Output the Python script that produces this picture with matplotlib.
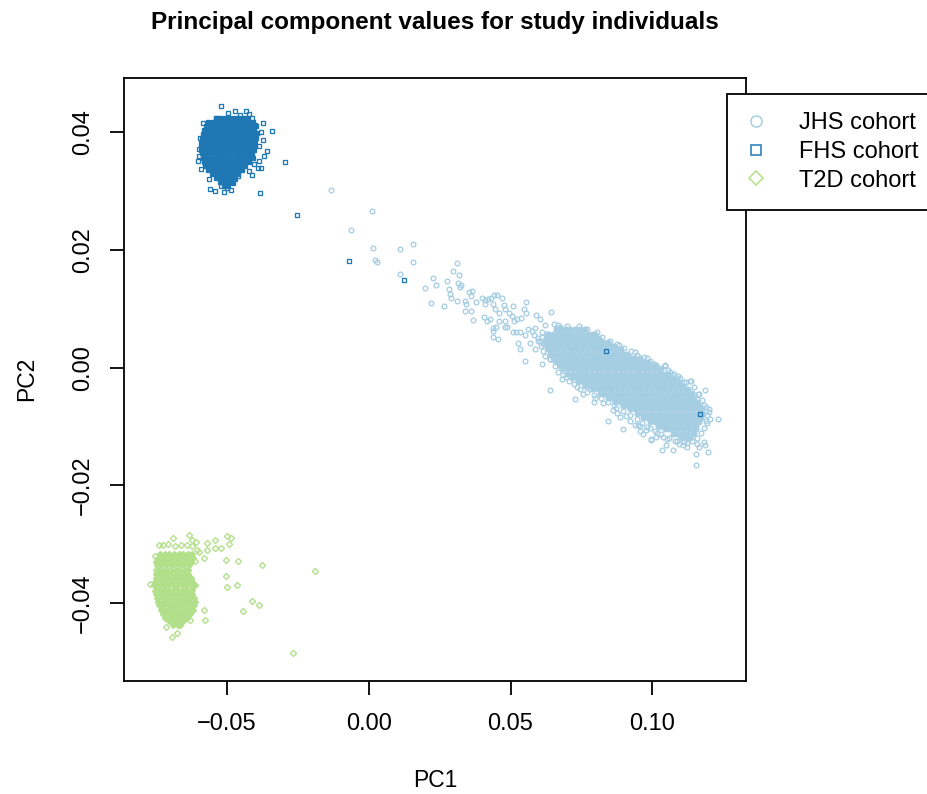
import numpy as np
import matplotlib.pyplot as plt
from matplotlib.lines import Line2D

plt.rcParams['font.family'] = ['Liberation Sans', 'DejaVu Sans']

# cohorts, colours and marker shapes
cohorts = ['JHS cohort', 'FHS cohort', 'T2D cohort']
colors = ['#A6CEE3', '#1F78B4', '#B2DF8A']
markers = ['o', 's', 'D']

x_ticks = [-0.05, 0.00, 0.05, 0.10]
y_ticks = [-0.04, -0.02, 0.00, 0.02, 0.04]

# --- JHS: dense (overplotted) band, one row per PC2 value (PC2, [PC1 ...])
jhs_core_rows = [
    (0.0065, [0.0660, 0.0677, 0.0694, 0.0711, 0.0728, 0.0745, 0.0762]),
    (0.0058, [0.0633, 0.0650, 0.0667, 0.0684, 0.0701, 0.0718, 0.0735, 0.0752, 0.0769, 0.0786, 0.0798]),
    (0.0051, [0.0625, 0.0642, 0.0659, 0.0676, 0.0693, 0.0710, 0.0727, 0.0744, 0.0761, 0.0778, 0.0795, 0.0812]),
    (0.0044, [0.0621, 0.0638, 0.0655, 0.0672, 0.0689, 0.0706, 0.0723, 0.0740, 0.0757, 0.0774, 0.0791, 0.0808,
              0.0825, 0.0842]),
    (0.0037, [0.0628, 0.0645, 0.0662, 0.0679, 0.0696, 0.0713, 0.0730, 0.0747, 0.0764, 0.0781, 0.0798, 0.0815,
              0.0832, 0.0849, 0.0866]),
    (0.0031, [0.0633, 0.0650, 0.0667, 0.0684, 0.0701, 0.0718, 0.0735, 0.0752, 0.0769, 0.0786, 0.0803, 0.0820,
              0.0837, 0.0854, 0.0871, 0.0888]),
    (0.0024, [0.0640, 0.0657, 0.0674, 0.0691, 0.0708, 0.0725, 0.0742, 0.0759, 0.0776, 0.0793, 0.0810, 0.0827,
              0.0844, 0.0861, 0.0878, 0.0895, 0.0912]),
    (0.0017, [0.0650, 0.0667, 0.0684, 0.0701, 0.0718, 0.0735, 0.0752, 0.0769, 0.0786, 0.0803, 0.0820, 0.0837,
              0.0854, 0.0871, 0.0888, 0.0905, 0.0922, 0.0939, 0.0956]),
    (0.0010, [0.0662, 0.0679, 0.0696, 0.0713, 0.0730, 0.0747, 0.0764, 0.0781, 0.0798, 0.0815, 0.0832, 0.0849,
              0.0866, 0.0883, 0.0900, 0.0917, 0.0934, 0.0951, 0.0968, 0.0985]),
    (0.0003, [0.0674, 0.0691, 0.0708, 0.0725, 0.0742, 0.0759, 0.0776, 0.0793, 0.0810, 0.0827, 0.0844, 0.0861,
              0.0878, 0.0895, 0.0912, 0.0929, 0.0946, 0.0963, 0.0980, 0.0997, 0.1010]),
    (-0.0003, [0.0686, 0.0703, 0.0720, 0.0737, 0.0754, 0.0771, 0.0788, 0.0805, 0.0822, 0.0839, 0.0856, 0.0873,
               0.0890, 0.0907, 0.0924, 0.0941, 0.0958, 0.0975, 0.0992, 0.1009, 0.1026]),
    (-0.0010, [0.0699, 0.0716, 0.0733, 0.0750, 0.0767, 0.0784, 0.0801, 0.0818, 0.0835, 0.0852, 0.0869, 0.0886,
               0.0903, 0.0920, 0.0937, 0.0954, 0.0971, 0.0988, 0.1005, 0.1022, 0.1039, 0.1055]),
    (-0.0017, [0.0718, 0.0735, 0.0752, 0.0769, 0.0786, 0.0803, 0.0820, 0.0837, 0.0854, 0.0871, 0.0888, 0.0905,
               0.0922, 0.0939, 0.0956, 0.0973, 0.0990, 0.1007, 0.1024, 0.1041, 0.1058, 0.1075]),
    (-0.0024, [0.0738, 0.0755, 0.0772, 0.0789, 0.0806, 0.0823, 0.0840, 0.0857, 0.0874, 0.0891, 0.0908, 0.0925,
               0.0942, 0.0959, 0.0976, 0.0993, 0.1010, 0.1027, 0.1044, 0.1061, 0.1078, 0.1095]),
    (-0.0031, [0.0764, 0.0781, 0.0798, 0.0815, 0.0832, 0.0849, 0.0866, 0.0883, 0.0900, 0.0917, 0.0934, 0.0951,
               0.0968, 0.0985, 0.1002, 0.1019, 0.1036, 0.1053, 0.1070, 0.1087, 0.1104]),
    (-0.0037, [0.0791, 0.0808, 0.0825, 0.0842, 0.0859, 0.0876, 0.0893, 0.0910, 0.0927, 0.0944, 0.0961, 0.0978,
               0.0995, 0.1012, 0.1029, 0.1046, 0.1063, 0.1080, 0.1097, 0.1114, 0.1127]),
    (-0.0044, [0.0816, 0.0833, 0.0850, 0.0867, 0.0884, 0.0901, 0.0918, 0.0935, 0.0952, 0.0969, 0.0986, 0.1003,
               0.1020, 0.1037, 0.1054, 0.1071, 0.1088, 0.1105, 0.1122, 0.1139]),
    (-0.0051, [0.0842, 0.0859, 0.0876, 0.0893, 0.0910, 0.0927, 0.0944, 0.0961, 0.0978, 0.0995, 0.1012, 0.1029,
               0.1046, 0.1063, 0.1080, 0.1097, 0.1114, 0.1131, 0.1148]),
    (-0.0058, [0.0869, 0.0886, 0.0903, 0.0920, 0.0937, 0.0954, 0.0971, 0.0988, 0.1005, 0.1022, 0.1039, 0.1056,
               0.1073, 0.1090, 0.1107, 0.1124, 0.1141, 0.1158]),
    (-0.0065, [0.0897, 0.0914, 0.0931, 0.0948, 0.0965, 0.0982, 0.0999, 0.1016, 0.1033, 0.1050, 0.1067, 0.1084,
               0.1101, 0.1118, 0.1135, 0.1152, 0.1168]),
    (-0.0071, [0.0922, 0.0939, 0.0956, 0.0973, 0.0990, 0.1007, 0.1024, 0.1041, 0.1058, 0.1075, 0.1092, 0.1109,
               0.1126, 0.1143, 0.1160, 0.1175]),
    (-0.0078, [0.0947, 0.0964, 0.0981, 0.0998, 0.1015, 0.1032, 0.1049, 0.1066, 0.1083, 0.1100, 0.1117, 0.1134,
               0.1151, 0.1168, 0.1180]),
    (-0.0085, [0.0968, 0.0985, 0.1002, 0.1019, 0.1036, 0.1053, 0.1070, 0.1087, 0.1104, 0.1121, 0.1138, 0.1155,
               0.1172]),
    (-0.0092, [0.0993, 0.1010, 0.1027, 0.1044, 0.1061, 0.1078, 0.1095, 0.1112, 0.1129, 0.1146, 0.1163]),
    (-0.0099, [0.1018, 0.1035, 0.1052, 0.1069, 0.1086, 0.1103, 0.1120, 0.1137, 0.1154]),
    (-0.0105, [0.1043, 0.1060, 0.1077, 0.1094, 0.1111, 0.1128, 0.1145, 0.1155]),
    (-0.0112, [0.1071, 0.1088, 0.1105, 0.1122, 0.1139, 0.1148]),
    (-0.0119, [0.1100, 0.1117, 0.1134]),
]

# --- JHS: scattered individuals (PC1, PC2)
jhs_scatter = [
    (-0.0134, 0.0302), (0.0013, 0.0266), (-0.0063, 0.0234), (0.0015, 0.0203), (0.0024, 0.0183),
    (0.0031, 0.0180), (0.0109, 0.0201), (0.0158, 0.0210), (0.0158, 0.0180), (0.0111, 0.0160),
    (0.0227, 0.0153), (0.0200, 0.0136), (0.0236, 0.0140), (0.0277, 0.0148), (0.0297, 0.0164),
    (0.0313, 0.0178), (0.0284, 0.0134), (0.0287, 0.0126), (0.0290, 0.0119), (0.0316, 0.0144),
    (0.0320, 0.0158), (0.0325, 0.0141), (0.0219, 0.0110), (0.0264, 0.0104), (0.0310, 0.0114),
    (0.0322, 0.0137), (0.0340, 0.0114), (0.0343, 0.0108), (0.0340, 0.0096), (0.0359, 0.0096),
    (0.0355, 0.0129), (0.0365, 0.0130), (0.0361, 0.0121), (0.0368, 0.0081), (0.0379, 0.0111),
    (0.0401, 0.0119), (0.0409, 0.0115), (0.0420, 0.0117), (0.0430, 0.0118), (0.0442, 0.0123),
    (0.0454, 0.0123), (0.0469, 0.0119), (0.0405, 0.0086), (0.0416, 0.0080), (0.0429, 0.0083),
    (0.0411, 0.0109), (0.0437, 0.0109), (0.0447, 0.0100), (0.0459, 0.0093), (0.0478, 0.0107),
    (0.0479, 0.0100), (0.0507, 0.0104), (0.0556, 0.0112), (0.0494, 0.0093), (0.0547, 0.0099),
    (0.0553, 0.0093), (0.0538, 0.0084), (0.0524, 0.0082), (0.0504, 0.0087), (0.0512, 0.0080),
    (0.0481, 0.0080), (0.0461, 0.0080), (0.0479, 0.0069), (0.0487, 0.0069), (0.0449, 0.0069),
    (0.0440, 0.0067), (0.0440, 0.0062), (0.0437, 0.0052), (0.0455, 0.0048), (0.0508, 0.0061),
    (0.0521, 0.0061), (0.0535, 0.0061), (0.0527, 0.0042), (0.0535, 0.0031), (0.0551, 0.0011),
    (0.0612, 0.0007), (0.0590, 0.0090), (0.0603, 0.0082), (0.0623, 0.0073), (0.0644, 0.0095),
    (0.0652, 0.0074), (0.0561, 0.0066), (0.0576, 0.0063), (0.0550, 0.0055), (0.0583, 0.0055),
    (0.0596, 0.0045), (0.0613, 0.0040), (0.0567, 0.0042), (0.0585, 0.0031), (0.0633, 0.0049),
    (0.0674, 0.0065), (0.0694, 0.0062), (0.0735, 0.0063), (0.0750, 0.0063), (0.0788, 0.0056),
    (0.0721, 0.0050), (0.0632, 0.0031), (0.0640, 0.0014), (0.0652, 0.0013), (0.0665, 0.0012),
    (0.0585, 0.0068), (0.0610, 0.0060), (0.0630, 0.0058), (0.0598, 0.0050), (0.0666, 0.0065),
    (0.1232, -0.0087), (0.1155, -0.0166), (0.1195, -0.0143), (0.1152, -0.0146), (0.1182, -0.0126),
    (0.1186, -0.0131), (0.1163, -0.0135), (0.1156, -0.0129), (0.1123, -0.0134), (0.1108, -0.0132),
    (0.1071, -0.0140), (0.1035, -0.0140), (0.1047, -0.0131), (0.0995, -0.0123), (0.0968, -0.0113),
    (0.0948, -0.0098), (0.0897, -0.0104), (0.0842, -0.0090), (0.0861, -0.0072), (0.0886, -0.0084),
    (0.0728, -0.0053), (0.0639, -0.0038), (0.1203, -0.0088), (0.1199, -0.0075), (0.1184, -0.0038),
    (0.1163, -0.0045), (0.1132, -0.0022), (0.1110, -0.0024), (0.1091, -0.0014), (0.1062, -0.0008),
    (0.1045, 0.0003), (0.1013, 0.0005), (0.0981, 0.0016), (0.0939, 0.0027), (0.0922, 0.0019),
    (0.0881, 0.0039), (0.0851, 0.0037), (0.0809, 0.0045), (0.0789, 0.0056), (0.0703, 0.0058),
    (0.0675, 0.0069), (0.0680, -0.0019), (0.0697, -0.0016), (0.0720, -0.0013), (0.0754, -0.0045),
    (0.0793, -0.0059), (0.0798, -0.0052), (0.0819, -0.0043), (0.0762, -0.0029), (0.0863, -0.0064),
    (0.0907, -0.0082), (0.0940, -0.0098), (0.0957, -0.0099), (0.0979, -0.0106), (0.1012, -0.0118),
    (0.1023, -0.0101), (0.1037, -0.0117), (0.1092, -0.0129), (0.1123, -0.0128), (0.0609, 0.0036),
    (0.0638, 0.0014), (0.0674, 0.0012), (0.0650, 0.0025), (0.0904, 0.0019), (0.0957, 0.0012),
    (0.0993, 0.0002), (0.1028, -0.0003), (0.1070, -0.0012), (0.1088, -0.0020), (0.1111, -0.0032),
    (0.1141, -0.0043), (0.1158, -0.0054), (0.1182, -0.0063), (0.1200, -0.0071), (0.1194, -0.0094),
    (0.1182, -0.0102), (0.1170, -0.0111), (0.1158, -0.0119), (0.0733, -0.0032), (0.0780, -0.0037),
    (0.0827, -0.0060), (0.0875, -0.0077), (0.0922, -0.0091), (0.0981, -0.0100), (0.1017, -0.0111),
    (0.1052, -0.0122), (0.1088, -0.0125), (0.0957, -0.0108), (0.1046, 0.0004), (0.1135, -0.0022),
    (0.0996, -0.0122),
    # individuals along the edges of the dense band
    (0.0668, 0.0072), (0.0700, 0.0070), (0.0742, 0.0071), (0.0770, 0.0066), (0.0805, 0.0060),
    (0.0822, 0.0052), (0.0850, 0.0046), (0.0875, 0.0041), (0.0900, 0.0033), (0.0925, 0.0028),
    (0.0945, 0.0022), (0.0970, 0.0018), (0.0990, 0.0012), (0.1005, 0.0006), (0.1030, 0.0000),
    (0.1055, -0.0004), (0.1075, -0.0010), (0.1098, -0.0017), (0.1120, -0.0025), (0.1145, -0.0033),
    (0.1160, -0.0045), (0.1175, -0.0055), (0.1190, -0.0066), (0.1192, -0.0080), (0.1188, -0.0090),
    (0.0655, 0.0003), (0.0668, -0.0008), (0.0685, -0.0012), (0.0705, -0.0022), (0.0722, -0.0028),
    (0.0745, -0.0036), (0.0770, -0.0041), (0.0795, -0.0046), (0.0820, -0.0052), (0.0845, -0.0058),
    (0.0870, -0.0068), (0.0895, -0.0073), (0.0920, -0.0081), (0.0945, -0.0088), (0.0965, -0.0094),
    (0.0990, -0.0103), (0.1010, -0.0108), (0.1030, -0.0113), (0.1060, -0.0120), (0.1080, -0.0124),
    (0.1110, -0.0126), (0.1140, -0.0124), (0.0612, 0.0052), (0.0605, 0.0045), (0.0615, 0.0028),
    (0.0622, 0.0020),
]

# --- FHS: dense cluster rows (PC2, [PC1 ...])
fhs_core_rows = [
    (0.0425, [-0.0539, -0.0523, -0.0507, -0.0491, -0.0475, -0.0459, -0.0443, -0.0428]),
    (0.0418, [-0.0565, -0.0549, -0.0533, -0.0517, -0.0501, -0.0485, -0.0469, -0.0453, -0.0437, -0.0421, -0.0406]),
    (0.0411, [-0.0573, -0.0557, -0.0541, -0.0525, -0.0509, -0.0493, -0.0477, -0.0461, -0.0445, -0.0429, -0.0413,
              -0.0398]),
    (0.0404, [-0.0580, -0.0564, -0.0548, -0.0532, -0.0516, -0.0500, -0.0484, -0.0468, -0.0452, -0.0436, -0.0420,
              -0.0404]),
    (0.0397, [-0.0585, -0.0569, -0.0553, -0.0537, -0.0521, -0.0505, -0.0489, -0.0473, -0.0457, -0.0441, -0.0425,
              -0.0409, -0.0397]),
    (0.0391, [-0.0588, -0.0572, -0.0556, -0.0540, -0.0524, -0.0508, -0.0492, -0.0476, -0.0460, -0.0444, -0.0428,
              -0.0412, -0.0396]),
    (0.0384, [-0.0589, -0.0575, -0.0559, -0.0543, -0.0527, -0.0511, -0.0495, -0.0479, -0.0463, -0.0447, -0.0431,
              -0.0415, -0.0400]),
    (0.0377, [-0.0591, -0.0577, -0.0561, -0.0545, -0.0529, -0.0513, -0.0497, -0.0481, -0.0465, -0.0449, -0.0433,
              -0.0417, -0.0401]),
    (0.0370, [-0.0592, -0.0578, -0.0562, -0.0546, -0.0530, -0.0514, -0.0498, -0.0482, -0.0466, -0.0450, -0.0434,
              -0.0418, -0.0403]),
    (0.0364, [-0.0588, -0.0572, -0.0556, -0.0540, -0.0524, -0.0508, -0.0492, -0.0476, -0.0460, -0.0444, -0.0428,
              -0.0412]),
    (0.0357, [-0.0584, -0.0568, -0.0552, -0.0536, -0.0520, -0.0504, -0.0488, -0.0472, -0.0456, -0.0440, -0.0424,
              -0.0407]),
    (0.0350, [-0.0581, -0.0565, -0.0549, -0.0533, -0.0517, -0.0501, -0.0485, -0.0469, -0.0453, -0.0437, -0.0421]),
    (0.0343, [-0.0577, -0.0561, -0.0545, -0.0529, -0.0513, -0.0497, -0.0481, -0.0465, -0.0449, -0.0434]),
    (0.0336, [-0.0566, -0.0550, -0.0534, -0.0518, -0.0502, -0.0486, -0.0470, -0.0454, -0.0448]),
    (0.0329, [-0.0552, -0.0536, -0.0520, -0.0504, -0.0488, -0.0472, -0.0462]),
    (0.0323, [-0.0538, -0.0522, -0.0506, -0.0490, -0.0476]),
    (0.0316, [-0.0524, -0.0508, -0.0492, -0.0483]),
    (0.0309, [-0.0510, -0.0494]),
]

fhs_scatter = [
    (-0.0520, 0.0444), (-0.0432, 0.0437), (-0.0372, 0.0415), (-0.0342, 0.0403), (-0.0371, 0.0387),
    (-0.0358, 0.0368), (-0.0368, 0.0360), (-0.0296, 0.0350), (-0.0390, 0.0339), (-0.0420, 0.0335),
    (-0.0462, 0.0326), (-0.0382, 0.0296), (-0.0508, 0.0299), (-0.0543, 0.0300), (-0.0560, 0.0304),
    (-0.0592, 0.0337), (-0.0597, 0.0360), (-0.0598, 0.0372), (-0.0584, 0.0385), (-0.0582, 0.0416),
    (-0.0538, 0.0425), (-0.0494, 0.0432), (-0.0453, 0.0429), (-0.0422, 0.0431), (-0.0402, 0.0413),
    (-0.0564, 0.0320), (-0.0519, 0.0309), (-0.0380, 0.0340), (-0.0405, 0.0346), (-0.0388, 0.0352),
    (-0.0412, 0.0328), (-0.0478, 0.0314), (-0.0470, 0.0320), (-0.0500, 0.0305), (-0.0485, 0.0302),
    (-0.0386, 0.0376), (-0.0392, 0.0398), (-0.0378, 0.0401), (-0.0410, 0.0425), (-0.0470, 0.0437),
    (-0.0560, 0.0410), (-0.0595, 0.0390), (-0.0602, 0.0352),
    (-0.0251, 0.0260), (-0.0070, 0.0181), (0.0123, 0.0149), (0.0838, 0.0029), (0.1168, -0.0078),
]

# --- T2D: dense cluster rows (PC2, [PC1 ...])
t2d_core_rows = [
    (-0.0316, [-0.0734, -0.0718, -0.0702, -0.0686, -0.0670, -0.0654, -0.0638, -0.0622]),
    (-0.0323, [-0.0744, -0.0728, -0.0712, -0.0696, -0.0680, -0.0664, -0.0648, -0.0632, -0.0618]),
    (-0.0330, [-0.0748, -0.0732, -0.0716, -0.0700, -0.0684, -0.0668, -0.0652, -0.0636, -0.0625]),
    (-0.0336, [-0.0746, -0.0730, -0.0714, -0.0698, -0.0682, -0.0666, -0.0650, -0.0634]),
    (-0.0343, [-0.0744, -0.0728, -0.0712, -0.0696, -0.0680, -0.0664, -0.0648, -0.0636]),
    (-0.0350, [-0.0748, -0.0732, -0.0716, -0.0700, -0.0684, -0.0668, -0.0652, -0.0636]),
    (-0.0357, [-0.0750, -0.0734, -0.0718, -0.0702, -0.0686, -0.0670, -0.0654, -0.0638, -0.0626]),
    (-0.0364, [-0.0752, -0.0736, -0.0720, -0.0704, -0.0688, -0.0672, -0.0656, -0.0640, -0.0624]),
    (-0.0370, [-0.0755, -0.0739, -0.0723, -0.0707, -0.0691, -0.0675, -0.0659, -0.0643, -0.0627, -0.0614]),
    (-0.0377, [-0.0751, -0.0735, -0.0719, -0.0703, -0.0687, -0.0671, -0.0655, -0.0639, -0.0623]),
    (-0.0384, [-0.0748, -0.0732, -0.0716, -0.0700, -0.0684, -0.0668, -0.0652, -0.0636, -0.0622]),
    (-0.0391, [-0.0745, -0.0729, -0.0713, -0.0697, -0.0681, -0.0665, -0.0649, -0.0633, -0.0617]),
    (-0.0398, [-0.0741, -0.0725, -0.0709, -0.0693, -0.0677, -0.0661, -0.0645, -0.0629, -0.0612]),
    (-0.0404, [-0.0737, -0.0721, -0.0705, -0.0689, -0.0673, -0.0657, -0.0641, -0.0625, -0.0615]),
    (-0.0411, [-0.0730, -0.0714, -0.0698, -0.0682, -0.0666, -0.0650, -0.0634, -0.0620]),
    (-0.0418, [-0.0723, -0.0707, -0.0691, -0.0675, -0.0659, -0.0643, -0.0630]),
    (-0.0425, [-0.0716, -0.0700, -0.0684, -0.0668, -0.0652, -0.0640]),
    (-0.0431, [-0.0702, -0.0686, -0.0670, -0.0655]),
    (-0.0438, [-0.0688, -0.0672, -0.0663]),
]

t2d_scatter = [
    (-0.0688, -0.0289), (-0.0632, -0.0285), (-0.0621, -0.0292), (-0.0609, -0.0296), (-0.0738, -0.0302),
    (-0.0726, -0.0301), (-0.0707, -0.0299), (-0.0684, -0.0303), (-0.0660, -0.0301), (-0.0641, -0.0302),
    (-0.0623, -0.0303), (-0.0604, -0.0310), (-0.0568, -0.0298), (-0.0541, -0.0292), (-0.0499, -0.0286),
    (-0.0486, -0.0289), (-0.0492, -0.0299), (-0.0520, -0.0306), (-0.0541, -0.0307), (-0.0568, -0.0310),
    (-0.0598, -0.0313), (-0.0580, -0.0323), (-0.0612, -0.0328), (-0.0752, -0.0320), (-0.0751, -0.0344),
    (-0.0771, -0.0367), (-0.0753, -0.0379), (-0.0627, -0.0360), (-0.0613, -0.0369), (-0.0627, -0.0377),
    (-0.0502, -0.0327), (-0.0461, -0.0329), (-0.0375, -0.0336), (-0.0188, -0.0345), (-0.0501, -0.0354),
    (-0.0500, -0.0373), (-0.0465, -0.0370), (-0.0412, -0.0396), (-0.0385, -0.0404), (-0.0442, -0.0414),
    (-0.0580, -0.0412), (-0.0576, -0.0428), (-0.0630, -0.0428), (-0.0714, -0.0441), (-0.0674, -0.0451),
    (-0.0693, -0.0458), (-0.0267, -0.0484), (-0.0729, -0.0411),
]


def rows_to_arrays(rows):
    pc1, pc2 = [], []
    for y, xs in rows:
        pc1 += xs
        pc2 += [y] * len(xs)
    return np.array(pc1), np.array(pc2)


def pairs_to_arrays(pairs):
    arr = np.array(pairs)
    return arr[:, 0], arr[:, 1]


cores = [rows_to_arrays(jhs_core_rows), rows_to_arrays(fhs_core_rows), rows_to_arrays(t2d_core_rows)]
scatters = [pairs_to_arrays(jhs_scatter), pairs_to_arrays(fhs_scatter), pairs_to_arrays(t2d_scatter)]
point_sizes = [3.4, 3.1, 3.1]
legend_sizes = [8.0, 7.2, 7.6]

fig = plt.figure(figsize=(9.27, 7.94), dpi=100)
ax = fig.add_axes([0.1341, 0.1427, 0.6707, 0.7591])

for core, pts, col, mk, ms in zip(cores, scatters, colors, markers, point_sizes):
    # overplotted centre of each cluster reads as solid colour
    ax.plot(core[0], core[1], linestyle='none', marker=mk, markersize=ms,
            markerfacecolor=col, markeredgecolor=col, markeredgewidth=0.95)
    ax.plot(pts[0], pts[1], linestyle='none', marker=mk, markersize=ms,
            markerfacecolor='none', markeredgecolor=col, markeredgewidth=0.95)

ax.set_xlim(-0.0861, 0.1330)
ax.set_ylim(-0.05319, 0.04923)
ax.set_xticks(x_ticks)
ax.set_xticklabels([f'{v:.2f}'.replace('-', '\u2212') for v in x_ticks])
ax.set_yticks(y_ticks)
ax.set_yticklabels([f'{v:.2f}'.replace('-', '\u2212') for v in y_ticks],
                   rotation=90, va='center')
ax.tick_params(direction='out', length=10, width=1.3, labelsize=17, color='black')
ax.tick_params(axis='x', pad=13)
ax.tick_params(axis='y', pad=12)
for sp in ax.spines.values():
    sp.set_linewidth(1.3)

ax.set_xlabel('PC1', fontsize=16.5, va='center')
ax.xaxis.set_label_coords(0.5, -0.1664)
ax.set_ylabel('PC2', fontsize=16.5, va='center')
ax.yaxis.set_label_coords(-0.1565, 0.5)

fig.text(0.469, 1 - 22 / 794, 'Principal component values for study individuals',
         ha='center', va='center', fontsize=17.5, fontweight='bold')

handles = [Line2D([], [], linestyle='none', marker=mk, markersize=ms,
                  markerfacecolor='none', markeredgecolor=col, markeredgewidth=1.1)
           for col, mk, ms in zip(colors, markers, legend_sizes)]
leg = fig.legend(handles, cohorts, loc='upper left',
                 bbox_to_anchor=(727 / 927, 1 - 94 / 794), bbox_transform=fig.transFigure,
                 fontsize=17, frameon=True, fancybox=False, edgecolor='black', framealpha=1,
                 borderpad=0.76, handlelength=0.91, handletextpad=1.38, labelspacing=0.29,
                 borderaxespad=0)
leg.get_frame().set_linewidth(1.3)

fig.savefig('out.png', dpi=100)
